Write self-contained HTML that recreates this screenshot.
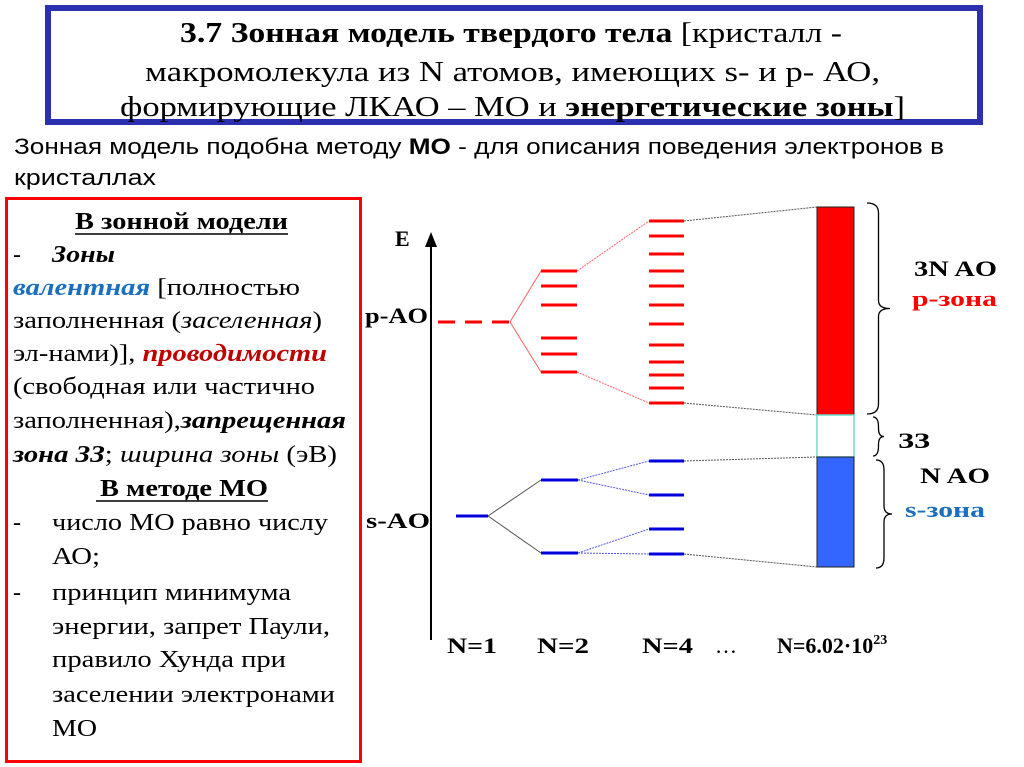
<!DOCTYPE html>
<html><head><meta charset="utf-8"><style>
html,body{margin:0;padding:0;background:#fff;width:1024px;height:767px;overflow:hidden}
svg{display:block}
.s{font-family:"Liberation Serif","Noto Serif CJK SC",serif}
.a{font-family:"Liberation Sans","Noto Sans CJK SC",sans-serif}
</style></head><body>
<svg id="root" width="1024" height="767" viewBox="0 0 1024 767">
<rect x="48" y="8" width="932" height="114" fill="none" stroke="#2b2fb0" stroke-width="6"/>
<g class="s" font-size="29" fill="#000">
<text x="180" y="42" textLength="662" lengthAdjust="spacingAndGlyphs"><tspan font-weight="bold">3.7 Зонная модель твердого тела</tspan> [кристалл -</text>
<text x="145" y="81" textLength="735" lengthAdjust="spacingAndGlyphs">макромолекула из N атомов, имеющих s- и  p- АО,</text>
<text x="120" y="116" textLength="785" lengthAdjust="spacingAndGlyphs">формирующие ЛКАО – МО и <tspan font-weight="bold">энергетические зоны</tspan>]</text>
</g>
<g class="a" font-size="22">
<text x="14" y="154" textLength="930" lengthAdjust="spacingAndGlyphs">Зонная модель подобна методу <tspan font-weight="bold">МО</tspan> - для описания поведения  электронов в</text>
<text x="14" y="185" textLength="142" lengthAdjust="spacingAndGlyphs">кристаллах</text>
</g>
<rect x="6.5" y="198.5" width="354" height="563" fill="none" stroke="#ff0000" stroke-width="3"/>
<g class="s" font-size="24">
<text x="75" y="229" font-weight="bold" textLength="213" lengthAdjust="spacingAndGlyphs">В зонной модели</text>
<line x1="75" y1="234" x2="288" y2="234" stroke="#000" stroke-width="1.5"/>
<text x="13" y="262">-</text>
<text x="52" y="262" font-weight="bold" font-style="italic" textLength="63" lengthAdjust="spacingAndGlyphs">Зоны</text>
<text x="13" y="295" textLength="287" lengthAdjust="spacingAndGlyphs"><tspan fill="#1a6fbf" font-weight="bold" font-style="italic">валентная</tspan> [полностью</text>
<text x="13" y="328" textLength="309" lengthAdjust="spacingAndGlyphs">заполненная (<tspan font-style="italic">заселенная</tspan>)</text>
<text x="13" y="361" textLength="314" lengthAdjust="spacingAndGlyphs">эл-нами)], <tspan fill="#c00000" font-weight="bold" font-style="italic">проводимости</tspan></text>
<text x="13" y="394" textLength="302" lengthAdjust="spacingAndGlyphs">(свободная или частично</text>
<text x="13" y="428" textLength="333" lengthAdjust="spacingAndGlyphs">заполненная),<tspan font-weight="bold" font-style="italic">запрещенная</tspan></text>
<text x="13" y="462" textLength="324" lengthAdjust="spacingAndGlyphs"><tspan font-weight="bold" font-style="italic">зона ЗЗ</tspan>; <tspan font-style="italic">ширина зоны</tspan> (эВ)</text>
<text x="100" y="496" font-weight="bold" textLength="168" lengthAdjust="spacingAndGlyphs">В методе МО</text>
<line x1="96" y1="501" x2="268" y2="501" stroke="#000" stroke-width="1.5"/>
<text x="13" y="530">-</text><text x="52" y="530" textLength="276" lengthAdjust="spacingAndGlyphs">число МО равно числу</text>
<text x="52" y="564" textLength="48" lengthAdjust="spacingAndGlyphs">АО;</text>
<text x="13" y="600">-</text><text x="52" y="600" textLength="239" lengthAdjust="spacingAndGlyphs">принцип минимума</text>
<text x="52" y="634" textLength="278" lengthAdjust="spacingAndGlyphs">энергии, запрет Паули,</text>
<text x="52" y="667" textLength="234" lengthAdjust="spacingAndGlyphs">правило Хунда при</text>
<text x="52" y="702" textLength="283" lengthAdjust="spacingAndGlyphs">заселении электронами</text>
<text x="52" y="736" textLength="45" lengthAdjust="spacingAndGlyphs">МО</text>
</g>
<g id="diagram"></g>
<g class="s" font-weight="bold" font-size="22">
<text x="395" y="246">E</text>
<text x="365" y="323" textLength="63" lengthAdjust="spacingAndGlyphs">p-AO</text>
<text x="366" y="528" textLength="64" lengthAdjust="spacingAndGlyphs">s-AO</text>
<text x="447" y="653" textLength="50" lengthAdjust="spacingAndGlyphs">N=1</text>
<text x="537" y="653" textLength="52" lengthAdjust="spacingAndGlyphs">N=2</text>
<text x="642" y="653" textLength="51" lengthAdjust="spacingAndGlyphs">N=4</text>
<text x="715" y="653" font-weight="normal">…</text>
<text x="777" y="653">N=6.02·10<tspan font-size="14" dy="-9">23</tspan></text>
<text x="914" y="276" textLength="83" lengthAdjust="spacingAndGlyphs">3N AO</text>
<text x="912" y="306" fill="#ff0000" textLength="85" lengthAdjust="spacingAndGlyphs">р-зона</text>
<text x="898" y="448" textLength="32" lengthAdjust="spacingAndGlyphs">ЗЗ</text>
<text x="920" y="483" textLength="70" lengthAdjust="spacingAndGlyphs">N AO</text>
<text x="905" y="517" fill="#1a6fbf" textLength="80" lengthAdjust="spacingAndGlyphs">s-зона</text>
</g>
</svg>
<script>
// energy levels (y pixel of level in diagram energy scale)
const pN2 = [271, 286, 305, 338, 354, 372];
const pN4 = [221, 236, 254, 271, 286, 305, 324, 345, 362, 375, 388, 403];
const sN2 = [480, 553];
const sN4 = [461, 495, 529, 554];
const pAO = 322, sAO = 516;
const pBand = [207, 415], sBand = [457, 567];

const NS = 'http://www.w3.org/2000/svg';
const g = document.getElementById('diagram');
function mk(tag, attrs, name) {
  const e = document.createElementNS(NS, tag);
  for (const k in attrs) e.setAttribute(k, attrs[k]);
  
  
  g.appendChild(e);
  return e;
}
function ln(x1, y1, x2, y2, c, w, name, dash) {
  const a = {x1, y1, x2, y2, stroke: c, 'stroke-width': w};
  if (dash) a['stroke-dasharray'] = dash;
  return mk('line', a, name);
}
ln(431, 245, 431, 640, '#000', 2, 'energy-axis');
mk('polygon', {points: '431,232 425,247 437,247', fill: '#000'}, 'axis-arrow');
ln(510, pAO, 541, pN2[0], '#ff6060', 1, 'p-connector');
ln(510, pAO, 541, pN2[pN2.length-1], '#ff6060', 1, 'p-connector');
ln(577, pN2[0], 649, pN4[0], '#ff6060', 1, 'p-connector', '2,1');
ln(577, pN2[pN2.length-1], 649, pN4[pN4.length-1], '#ff6060', 1, 'p-connector', '2,1');
ln(684, pN4[0], 817, pBand[0], '#555', 1, 'band-connector', '2,1');
ln(684, pN4[pN4.length-1], 817, pBand[1], '#555', 1, 'band-connector', '2,1');
ln(488, sAO, 541, sN2[0], '#555', 1, 's-connector');
ln(488, sAO, 541, sN2[1], '#555', 1, 's-connector');
ln(578, sN2[0], 649, sN4[0], '#5555ee', 1, 's-connector', '2,1');
ln(578, sN2[0], 649, sN4[1], '#5555ee', 1, 's-connector', '2,1');
ln(578, sN2[1], 649, sN4[2], '#5555ee', 1, 's-connector', '2,1');
ln(578, sN2[1], 649, sN4[3], '#5555ee', 1, 's-connector', '2,1');
ln(684, sN4[0], 817, sBand[0], '#555', 1, 'band-connector', '2,1');
ln(684, sN4[sN4.length-1], 817, sBand[1], '#555', 1, 'band-connector', '2,1');
ln(438, pAO, 510, pAO, '#ff0000', 3, 'p-ao-level', '17,10');
ln(456, sAO, 488, sAO, '#0000dd', 3, 's-ao-level');
pN2.forEach(y => ln(541, y, 577, y, '#ff0000', 3, 'p-level-n2'));
pN4.forEach(y => ln(649, y, 684, y, '#ff0000', 3, 'p-level-n4'));
sN2.forEach(y => ln(541, y, 578, y, '#0000dd', 3, 's-level-n2'));
sN4.forEach(y => ln(649, y, 684, y, '#0000dd', 3, 's-level-n4'));
mk('rect', {x: 817, y: pBand[0], width: 37, height: pBand[1]-pBand[0], fill: '#ff0000', stroke: '#222', 'stroke-width': 1}, 'p-band');
mk('rect', {x: 817, y: pBand[1], width: 37, height: sBand[0]-pBand[1], fill: '#fff', stroke: '#66ddcc', 'stroke-width': 1.5}, 'band-gap');
mk('rect', {x: 817, y: sBand[0], width: 37, height: sBand[1]-sBand[0], fill: '#3366ff', stroke: '#222', 'stroke-width': 1}, 's-band');
function brace(x, y1, y2, w, name) {
  const m = (y1 + y2) / 2;
  const d = `M${x},${y1} Q${x+w*0.5},${y1} ${x+w*0.5},${y1+10} L${x+w*0.5},${m-8} Q${x+w*0.5},${m} ${x+w},${m} Q${x+w*0.5},${m} ${x+w*0.5},${m+8} L${x+w*0.5},${y2-10} Q${x+w*0.5},${y2} ${x},${y2}`;
  mk('path', {d, fill: 'none', stroke: '#000', 'stroke-width': 1.3}, name);
}
brace(867, 203, 414, 23, 'p-band-brace');
brace(873, 417, 456, 11, 'gap-brace');
brace(876, 460, 568, 16, 's-band-brace');
</script>
</body></html>
